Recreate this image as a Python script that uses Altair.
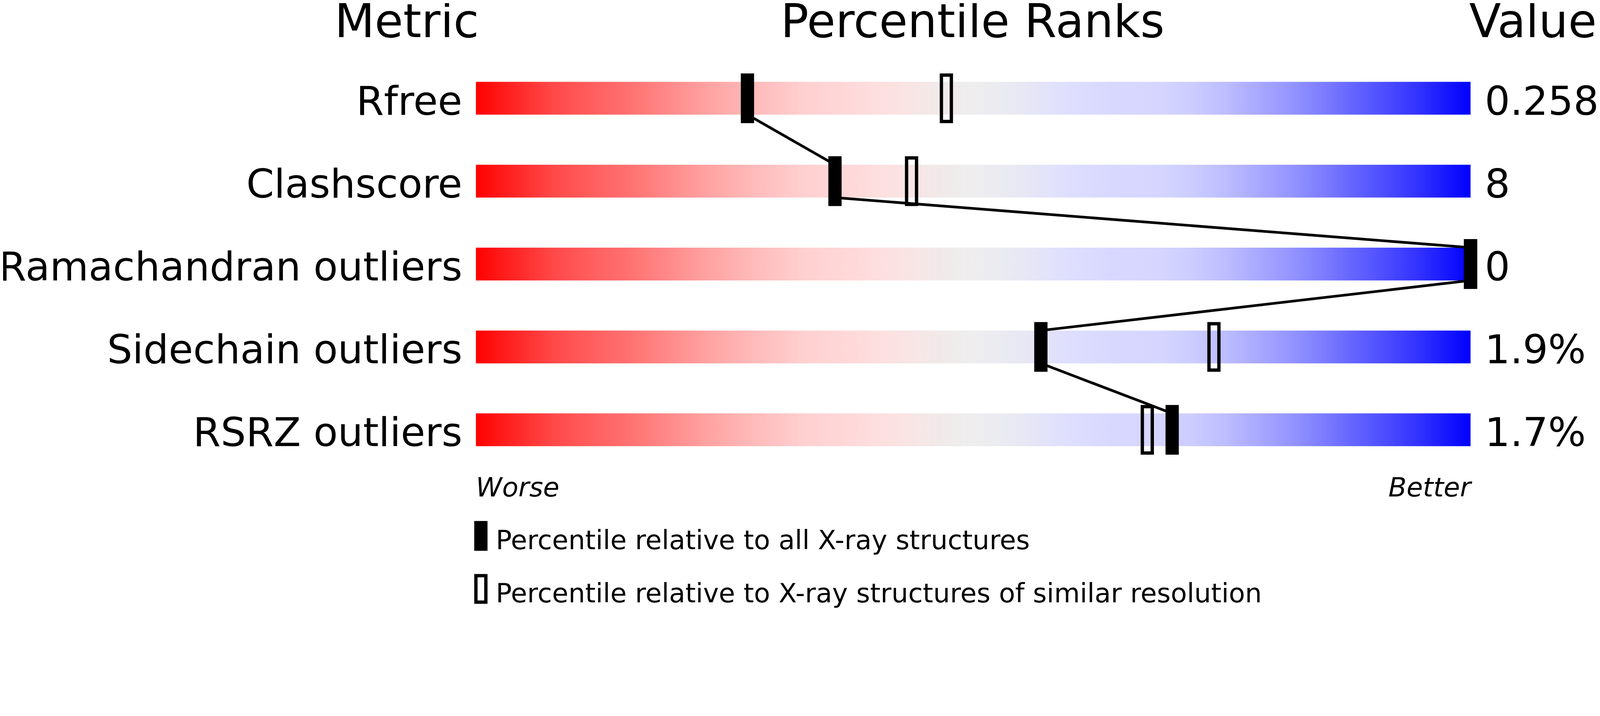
import altair as alt
import pandas as pd

# ---- data ----
metrics = ["Rfree", "Clashscore", "Ramachandran outliers", "Sidechain outliers", "RSRZ outliers"]
values = ["0.258", "8", "0", "1.9%", "1.7%"]
pct_all = [27.3, 36.1, 100, 56.8, 70.0]
pct_similar = [47.3, 43.8, 100, 74.2, 67.5]

FONT = "DejaVu Sans"
BAR_HALF = 0.198
SHIFT = -140  # vertical compensation for how the page places the drawing

rows = pd.DataFrame({
    "metric": metrics,
    "value": values,
    "idx": list(range(len(metrics))),
    "all": pct_all,
    "similar": pct_similar,
})
rows["lo"] = 0
rows["hi"] = 100
rows["y1"] = rows["idx"] - BAR_HALF
rows["y2"] = rows["idx"] + BAR_HALF

segs = pd.DataFrame({
    "xa": pct_all[:-1],
    "xb": pct_all[1:],
    "ya": [i + BAR_HALF for i in range(len(metrics) - 1)],
    "yb": [i + 1 - BAR_HALF for i in range(len(metrics) - 1)],
})

xs = alt.Scale(domain=[0, 100], range=[1426, 4426], nice=False, zero=False)
ys = alt.Scale(domain=[0, 4], range=[288 + SHIFT, 1288 + SHIFT], nice=False, zero=False)

stops = [
    (0.0, "#ff0000"), (0.026, "#ff1a1a"), (0.051, "#ff3030"), (0.077, "#ff4848"),
    (0.10, "#ff5555"), (0.128, "#ff6464"), (0.153, "#ff7070"), (0.179, "#ff8080"),
    (0.204, "#ff9090"), (0.23, "#ffa0a0"), (0.255, "#ffaeae"), (0.28, "#ffbaba"),
    (0.306, "#ffc5c5"), (0.33, "#ffd0d0"), (0.357, "#ffd5d5"), (0.38, "#ffd9d9"),
    (0.41, "#fde0e0"), (0.446, "#f6e6e6"), (0.47, "#f0eaea"), (0.50, "#eeeeee"),
    (0.548, "#e8e8f4"), (0.596, "#dedeff"), (0.64, "#d8d8ff"), (0.69, "#d5d5ff"),
    (0.72, "#ccccff"), (0.755, "#bcbcff"), (0.787, "#a8a8ff"), (0.82, "#9494ff"),
    (0.85, "#7e7eff"), (0.88, "#6666ff"), (0.915, "#4c4cff"), (0.946, "#3333ff"),
    (0.978, "#1515ff"), (1.0, "#0000ff"),
]
grad = alt.LinearGradient(
    gradient="linear",
    stops=[alt.GradientStop(offset=o, color=c) for o, c in stops],
    x1=0, x2=1, y1=0, y2=0,
)

bars = alt.Chart(rows).mark_rect(color=grad).encode(
    x=alt.X("lo:Q", scale=xs, axis=None),
    x2="hi:Q",
    y=alt.Y("y1:Q", scale=ys, axis=None),
    y2="y2:Q",
)

links = alt.Chart(segs).mark_rule(color="black", strokeWidth=8).encode(
    x=alt.X("xa:Q", scale=xs, axis=None),
    x2="xb:Q",
    y=alt.Y("ya:Q", scale=ys, axis=None),
    y2="yb:Q",
)

hollow = alt.Chart(rows).mark_tick(
    orient="vertical", filled=False, color="black", strokeWidth=10,
    size=140, thickness=30, opacity=1,
).encode(
    x=alt.X("similar:Q", scale=xs, axis=None),
    y=alt.Y("idx:Q", scale=ys, axis=None),
)

filled = alt.Chart(rows).mark_tick(
    orient="vertical", color="black", size=150, thickness=40, opacity=1,
).encode(
    x=alt.X("all:Q", scale=xs, axis=None),
    y=alt.Y("idx:Q", scale=ys, axis=None),
)

labels = alt.Chart(rows).mark_text(
    align="right", baseline="alphabetic", dy=49.5, font=FONT, fontSize=120, color="black",
).encode(
    x=alt.value(1385),
    y=alt.Y("idx:Q", scale=ys, axis=None),
    text="metric:N",
)

vals = alt.Chart(rows).mark_text(
    align="left", baseline="alphabetic", dy=49.5, font=FONT, fontSize=120, color="black",
).encode(
    x=alt.value(4469),
    y=alt.Y("idx:Q", scale=ys, axis=None),
    text="value:N",
)


def free_text(txt, x, y, align, size, italic=False):
    return alt.Chart(pd.DataFrame({"t": [txt]})).mark_text(
        align=align, baseline="alphabetic", font=FONT, fontSize=size,
        fontStyle="italic" if italic else "normal", color="black",
    ).encode(x=alt.value(x), y=alt.value(y + SHIFT), text="t:N")


titles = [
    free_text("Metric", 1435, 103, "right", 140),
    free_text("Percentile Ranks", 2924, 103, "center", 140),
    free_text("Value", 4422, 103, "left", 140),
    free_text("Worse", 1426, 1489, "left", 80, italic=True),
    free_text("Better", 4427, 1489, "right", 80, italic=True),
    free_text("Percentile relative to all X-ray structures", 1486, 1648.7, "left", 80),
    free_text("Percentile relative to X-ray structures of similar resolution", 1486, 1808.7, "left", 80),
]

leg_df = pd.DataFrame({"k": [0]})
leg_filled = alt.Chart(leg_df).mark_tick(
    orient="vertical", color="black", size=90, thickness=40, opacity=1,
).encode(x=alt.value(1441), y=alt.value(1607.85 + SHIFT))
leg_hollow = alt.Chart(leg_df).mark_tick(
    orient="vertical", filled=False, color="black", strokeWidth=10,
    size=80, thickness=30, opacity=1,
).encode(x=alt.value(1441), y=alt.value(1767.85 + SHIFT))

chart = alt.layer(
    bars, links, hollow, filled, labels, vals, *titles, leg_filled, leg_hollow
).properties(
    width=4807, height=1560,
    autosize=alt.AutoSizeParams(type="none"),
    padding=0,
    background="white",
).configure_view(strokeWidth=0)

chart.save("out.html", embed_options={"renderer": "svg", "actions": False})
